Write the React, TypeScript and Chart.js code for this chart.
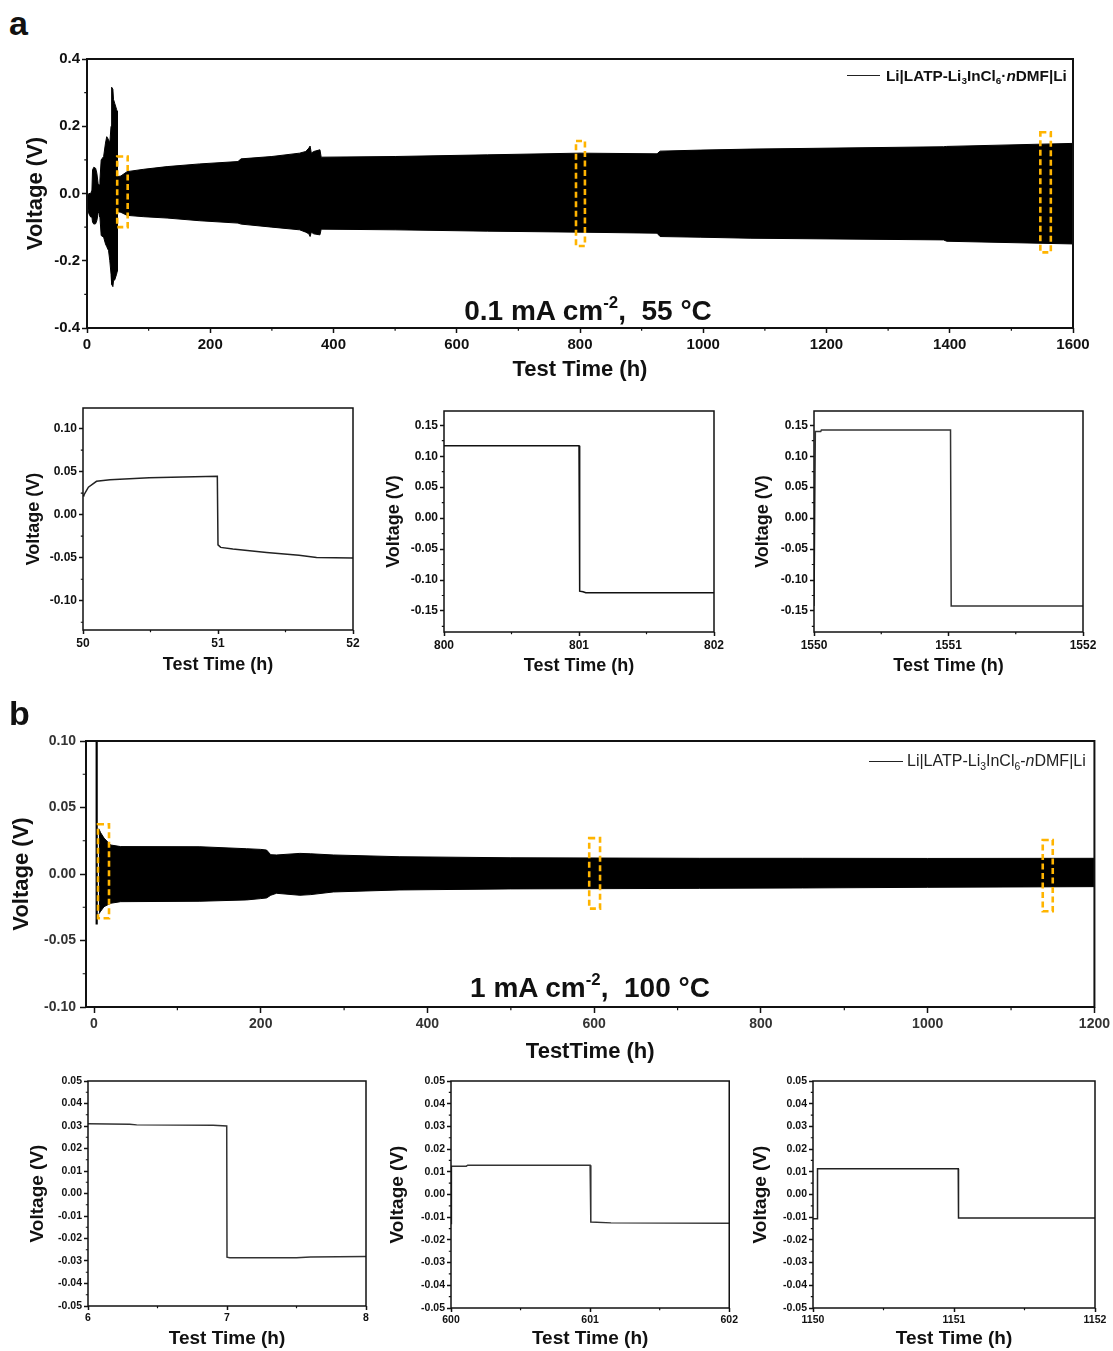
import React, { useEffect, useRef } from 'react';
import { Chart, registerables } from 'chart.js';

Chart.register(...registerables);

const FONT = "'Liberation Sans', Arial, Helvetica, sans-serif";

// ---------------- Panel a (0.1 mA cm-2, 55 °C) : envelope of the cycling band ----------------
const timeA = [0, 1, 3, 6, 8, 9, 11, 14, 16, 18, 20, 21, 23, 27, 30, 32, 35, 37, 39, 40, 42, 43, 45, 48, 49, 49.5, 55, 65, 92, 130, 183, 245, 250, 300, 345, 355, 360, 362, 364, 368, 378, 380, 500, 650, 800, 925, 930, 995, 1076, 1390, 1395, 1600];
const upperA = [0.0, -0.005, 0.0, 0.0, 0.01, 0.07, 0.078, 0.075, 0.06, 0.03, 0.025, 0.04, 0.1, 0.11, 0.15, 0.169, 0.16, 0.15, 0.2, 0.316, 0.31, 0.28, 0.268, 0.25, 0.245, 0.05, 0.052, 0.065, 0.072, 0.08, 0.088, 0.095, 0.103, 0.11, 0.12, 0.125, 0.135, 0.141, 0.12, 0.125, 0.13, 0.108, 0.11, 0.115, 0.12, 0.118, 0.126, 0.129, 0.132, 0.139, 0.14, 0.149];
const lowerA = [-0.005, -0.04, -0.06, -0.07, -0.07, -0.085, -0.091, -0.09, -0.08, -0.06, -0.05, -0.07, -0.125, -0.13, -0.15, -0.158, -0.17, -0.2, -0.24, -0.27, -0.277, -0.26, -0.257, -0.24, -0.232, -0.054, -0.056, -0.065, -0.069, -0.073, -0.081, -0.088, -0.091, -0.1, -0.108, -0.115, -0.12, -0.128, -0.115, -0.12, -0.123, -0.106, -0.108, -0.112, -0.115, -0.118, -0.128, -0.13, -0.133, -0.138, -0.142, -0.15];

// highlighted windows (orange dashed boxes) in panel a
const boxA_t0 = [49, 793.5, 1547];
const boxA_t1 = [66, 808, 1564];
const boxA_top = [0.11, 0.156, 0.182];
const boxA_bot = [-0.1, -0.156, -0.175];

// insets of panel a
const timeA1 = [50, 50.007, 50.04, 50.1, 50.2, 50.49, 50.74, 50.995, 51.0, 51.02, 51.11, 51.36, 51.6, 51.73, 52];
const voltA1 = [0.022, 0.023, 0.032, 0.0388, 0.0407, 0.043, 0.0438, 0.0446, -0.035, -0.038, -0.04, -0.0438, -0.047, -0.0496, -0.0504];
const timeA2 = [800, 801.0, 801.005, 801.03, 801.05, 802];
const voltA2 = [0.117, 0.117, -0.118, -0.119, -0.1207, -0.1207];
const timeA3 = [1550, 1550.01, 1550.05, 1550.055, 1551.015, 1551.02, 1552];
const voltA3 = [-0.142, 0.14, 0.14, 0.1425, 0.1425, -0.142, -0.142];

// ---------------- Panel b (1 mA cm-2, 100 °C) ----------------
const timeB = [5.8, 8, 12, 20, 32, 127, 183, 200, 207, 212, 219, 247, 260, 287, 366, 500, 726, 850, 1000, 1200];
const upperB = [0.034, 0.031, 0.027, 0.0218, 0.0206, 0.0205, 0.019, 0.0185, 0.018, 0.0145, 0.0143, 0.0155, 0.0152, 0.0143, 0.013, 0.0122, 0.0118, 0.0118, 0.0117, 0.0118];
const lowerB = [-0.03, -0.028, -0.0246, -0.022, -0.0208, -0.0205, -0.0195, -0.0185, -0.018, -0.016, -0.0145, -0.016, -0.0155, -0.0135, -0.012, -0.0112, -0.0108, -0.0105, -0.01, -0.0095];
const spikeTimeB = [3.2, 3.2];
const spikeVoltB = [0.12, -0.038];

const boxB_t0 = [4.8, 594, 1138];
const boxB_t1 = [18, 607, 1150];
const boxB_top = [0.0374, 0.027, 0.0256];
const boxB_bot = [-0.0333, -0.026, -0.028];

const timeB1 = [6, 6.3, 6.35, 6.9, 6.998, 7.0, 7.02, 7.5, 7.6, 8];
const voltB1 = [0.031, 0.0308, 0.0305, 0.0303, 0.03, -0.0283, -0.0286, -0.0286, -0.0282, -0.028];
const timeB2 = [600, 600.003, 600.11, 600.12, 601.0, 601.005, 601.15, 602];
const voltB2 = [-0.0128, 0.0125, 0.0125, 0.0129, 0.0129, -0.0121, -0.0125, -0.0127];
const timeB3 = [1150, 1150.03, 1150.032, 1151.03, 1151.032, 1152];
const voltB3 = [-0.0107, -0.0107, 0.0113, 0.0113, -0.0104, -0.0104];

// ---------------- tick values ----------------
const mainAX = [0, 200, 400, 600, 800, 1000, 1200, 1400, 1600];
const mainAXMinor = [100, 300, 500, 700, 900, 1100, 1300, 1500];
const mainAY = [-0.4, -0.2, 0, 0.2, 0.4];
const mainAYMinor = [-0.3, -0.1, 0.1, 0.3];
const insA1Y = [-0.1, -0.05, 0, 0.05, 0.1];
const insA1YMinor = [-0.125, -0.075, -0.025, 0.025, 0.075];
const insA23Y = [-0.15, -0.1, -0.05, 0, 0.05, 0.1, 0.15];
const insA23YMinor = [-0.175, -0.125, -0.075, -0.025, 0.025, 0.075, 0.125];
const mainBX = [0, 200, 400, 600, 800, 1000, 1200];
const mainBXMinor = [100, 300, 500, 700, 900, 1100];
const mainBY = [-0.1, -0.05, 0, 0.05, 0.1];
const mainBYMinor = [-0.075, -0.025, 0.025, 0.075];
const insBY = [-0.05, -0.04, -0.03, -0.02, -0.01, 0, 0.01, 0.02, 0.03, 0.04, 0.05];
const insBYMinor = [-0.045, -0.035, -0.025, -0.015, -0.005, 0.005, 0.015, 0.025, 0.035, 0.045];

type Spec = {
  box: [number, number, number, number];
  plot: [number, number, number, number];
  xr: [number, number];
  yr: [number, number];
  xTicks: number[];
  xMinor: number[];
  yTicks: number[];
  yMinor: number[];
  xDec: number;
  yDec: number;
  tickSize: number;
  tickColor: string;
  tickLen: number;
  xPad: number;
  yPad: number;
  xTitle: string;
  yTitle: string;
  titleSize: number;
  xTitleY: number;
  yTitleX: number;
  frameW: number;
  lines: { x: number[]; y: number[]; w: number; c: string }[];
  band?: { x: number[]; hi: number[]; lo: number[] };
  rects?: { t0: number[]; t1: number[]; top: number[]; bot: number[] };
};

const base = {
  tickColor: '#111',
  frameW: 1.5,
};

const tri = (a: number) => [a, a + 1, a + 2];
const half = (a: number) => [a + 0.5, a + 1.5];

const specs: Spec[] = [
  {
    ...base,
    box: [0, 45, 1113, 345], plot: [87, 59, 1073, 328], xr: [0, 1600], yr: [-0.4, 0.4],
    xTicks: mainAX, xMinor: mainAXMinor, yTicks: mainAY, yMinor: mainAYMinor, xDec: 0, yDec: 1,
    tickSize: 15, tickLen: 5, xPad: 3, yPad: 2,
    xTitle: 'Test Time (h)', yTitle: 'Voltage (V)', titleSize: 22, xTitleY: 370, yTitleX: 36, frameW: 2,
    lines: [], band: { x: timeA, hi: upperA, lo: lowerA },
    rects: { t0: boxA_t0, t1: boxA_t1, top: boxA_top, bot: boxA_bot },
  },
  {
    ...base,
    box: [0, 398, 370, 282], plot: [83, 408, 353, 630], xr: [50, 52], yr: [-0.134, 0.124],
    xTicks: tri(50), xMinor: half(50), yTicks: insA1Y, yMinor: insA1YMinor, xDec: 0, yDec: 2,
    tickSize: 12, tickLen: 4, xPad: 2, yPad: 2,
    xTitle: 'Test Time (h)', yTitle: 'Voltage (V)', titleSize: 18, xTitleY: 665, yTitleX: 34,
    lines: [{ x: timeA1, y: voltA1, w: 1.5, c: '#222' }],
  },
  {
    ...base,
    box: [370, 398, 370, 282], plot: [444, 411, 714, 632], xr: [800, 802], yr: [-0.184, 0.173],
    xTicks: tri(800), xMinor: half(800), yTicks: insA23Y, yMinor: insA23YMinor, xDec: 0, yDec: 2,
    tickSize: 12, tickLen: 4, xPad: 2, yPad: 2,
    xTitle: 'Test Time (h)', yTitle: 'Voltage (V)', titleSize: 18, xTitleY: 666, yTitleX: 394,
    lines: [{ x: timeA2, y: voltA2, w: 1.5, c: '#111' }],
  },
  {
    ...base,
    box: [740, 398, 373, 282], plot: [814, 411, 1083, 632], xr: [1550, 1552], yr: [-0.184, 0.173],
    xTicks: tri(1550), xMinor: half(1550), yTicks: insA23Y, yMinor: insA23YMinor, xDec: 0, yDec: 2,
    tickSize: 12, tickLen: 4, xPad: 2, yPad: 2,
    xTitle: 'Test Time (h)', yTitle: 'Voltage (V)', titleSize: 18, xTitleY: 666, yTitleX: 763,
    lines: [{ x: timeA3, y: voltA3, w: 1.5, c: '#333' }],
  },
  {
    ...base,
    tickColor: '#333',
    box: [0, 725, 1113, 345], plot: [86, 741, 1096, 1007], xr: [-9.6, 1200], yr: [-0.1, 0.1],
    xTicks: mainBX, xMinor: mainBXMinor, yTicks: mainBY, yMinor: mainBYMinor, xDec: 0, yDec: 2,
    tickSize: 14, tickLen: 6, xPad: 3, yPad: 4,
    xTitle: 'TestTime (h)', yTitle: 'Voltage (V)', titleSize: 22, xTitleY: 1052, yTitleX: 22, frameW: 2,
    lines: [{ x: spikeTimeB, y: spikeVoltB, w: 2.2, c: '#000' }],
    band: { x: timeB, hi: upperB, lo: lowerB },
    rects: { t0: boxB_t0, t1: boxB_t1, top: boxB_top, bot: boxB_bot },
  },
  {
    ...base,
    box: [0, 1070, 375, 281], plot: [88, 1081, 366, 1306], xr: [6, 8], yr: [-0.05, 0.05],
    xTicks: tri(6), xMinor: half(6), yTicks: insBY, yMinor: insBYMinor, xDec: 0, yDec: 2,
    tickSize: 10.5, tickLen: 4, xPad: 2, yPad: 2,
    xTitle: 'Test Time (h)', yTitle: 'Voltage (V)', titleSize: 19, xTitleY: 1339, yTitleX: 38,
    lines: [{ x: timeB1, y: voltB1, w: 1.5, c: '#333' }],
  },
  {
    ...base,
    box: [375, 1070, 365, 281], plot: [451, 1081, 730, 1308], xr: [600, 602], yr: [-0.05, 0.05],
    xTicks: tri(600), xMinor: half(600), yTicks: insBY, yMinor: insBYMinor, xDec: 0, yDec: 2,
    tickSize: 10.5, tickLen: 4, xPad: 2, yPad: 2,
    xTitle: 'Test Time (h)', yTitle: 'Voltage (V)', titleSize: 19, xTitleY: 1339, yTitleX: 398,
    lines: [{ x: timeB2, y: voltB2, w: 1.5, c: '#333' }],
  },
  {
    ...base,
    box: [740, 1070, 373, 281], plot: [813, 1081, 1095, 1308], xr: [1150, 1152], yr: [-0.05, 0.05],
    xTicks: tri(1150), xMinor: half(1150), yTicks: insBY, yMinor: insBYMinor, xDec: 0, yDec: 2,
    tickSize: 10.5, tickLen: 4, xPad: 2, yPad: 2,
    xTitle: 'Test Time (h)', yTitle: 'Voltage (V)', titleSize: 19, xTitleY: 1339, yTitleX: 761,
    lines: [{ x: timeB3, y: voltB3, w: 1.5, c: '#222' }],
  },
];

const fmt = (v: number, d: number) => {
  const s = v.toFixed(d);
  return /^-0\.?0*$/.test(s) ? s.slice(1) : s;
};

const pts = (xs: number[], ys: number[]) => xs.map((x, i) => ({ x, y: ys[i] }));

function decor(spec: Spec) {
  return {
    id: 'decor',
    afterDatasetsDraw(chart: any) {
      if (!spec.rects) return;
      const { ctx } = chart;
      const xs = chart.scales.x;
      const ys = chart.scales.y;
      ctx.save();
      ctx.strokeStyle = '#FFB400';
      ctx.lineWidth = 2.6;
      ctx.setLineDash([6, 3.5]);
      const r = spec.rects;
      r.t0.forEach((t0, i) => {
        const x0 = xs.getPixelForValue(t0);
        const x1 = xs.getPixelForValue(r.t1[i]);
        const y0 = ys.getPixelForValue(r.top[i]);
        const y1 = ys.getPixelForValue(r.bot[i]);
        ctx.strokeRect(x0, y0, x1 - x0, y1 - y0);
      });
      ctx.restore();
    },
    afterDraw(chart: any) {
      const { ctx, chartArea: a } = chart;
      const xs = chart.scales.x;
      const ys = chart.scales.y;
      ctx.save();
      ctx.strokeStyle = '#111';
      ctx.lineWidth = spec.frameW;
      ctx.strokeRect(a.left, a.top, a.right - a.left, a.bottom - a.top);
      ctx.lineWidth = 1.2;
      const ml = Math.max(2, spec.tickLen * 0.55);
      ctx.beginPath();
      spec.xMinor.forEach((v) => {
        const px = xs.getPixelForValue(v);
        ctx.moveTo(px, a.bottom);
        ctx.lineTo(px, a.bottom + ml);
      });
      spec.yMinor.forEach((v) => {
        const py = ys.getPixelForValue(v);
        ctx.moveTo(a.left, py);
        ctx.lineTo(a.left - ml, py);
      });
      ctx.stroke();
      ctx.restore();
    },
  };
}

function makeConfig(spec: Spec): any {
  const [cx, cy, cw, ch] = spec.box;
  const [pl, pt, pr, pb] = spec.plot;
  const datasets: any[] = [];
  if (spec.band) {
    datasets.push({
      data: pts(spec.band.x, spec.band.hi),
      borderColor: '#000', backgroundColor: '#000', borderWidth: 1,
      pointRadius: 0, fill: '+1', tension: 0,
    });
    datasets.push({
      data: pts(spec.band.x, spec.band.lo),
      borderColor: '#000', backgroundColor: '#000', borderWidth: 1,
      pointRadius: 0, fill: false, tension: 0,
    });
  }
  spec.lines.forEach((l) => {
    datasets.push({
      data: pts(l.x, l.y),
      borderColor: l.c, borderWidth: l.w, pointRadius: 0, fill: false, tension: 0,
    });
  });
  const tickFont = { family: FONT, size: spec.tickSize, weight: 'bold' as const };
  const titleFont = { family: FONT, size: spec.titleSize, weight: 'bold' as const, lineHeight: 1.2 };
  const halfLH = (spec.titleSize * 1.2) / 2;
  const grid = {
    display: true, drawOnChartArea: false, drawTicks: true,
    tickLength: spec.tickLen, tickColor: '#111', tickWidth: 1.5, color: 'rgba(0,0,0,0)',
  };
  return {
    type: 'line',
    data: { datasets },
    plugins: [decor(spec)],
    options: {
      animation: false,
      responsive: false,
      events: [],
      layout: { padding: { left: 0, bottom: 0, top: pt - cy, right: cx + cw - pr } },
      plugins: { legend: { display: false }, tooltip: { enabled: false }, title: { display: false } },
      scales: {
        x: {
          type: 'linear', position: 'bottom', min: spec.xr[0], max: spec.xr[1],
          afterBuildTicks: (s: any) => { s.ticks = spec.xTicks.map((v) => ({ value: v })); },
          afterFit: (s: any) => { s.height = cy + ch - pb; },
          ticks: {
            autoSkip: false, maxRotation: 0, minRotation: 0, padding: spec.xPad,
            color: spec.tickColor, font: tickFont,
            callback: (v: any) => fmt(Number(v), spec.xDec),
          },
          grid, border: { display: false },
          title: {
            display: true, text: spec.xTitle, color: '#111', font: titleFont,
            padding: { top: 0, bottom: cy + ch - spec.xTitleY - halfLH },
          },
        },
        y: {
          type: 'linear', position: 'left', min: spec.yr[0], max: spec.yr[1],
          afterBuildTicks: (s: any) => { s.ticks = spec.yTicks.map((v) => ({ value: v })); },
          afterFit: (s: any) => { s.width = pl - cx; },
          ticks: {
            autoSkip: false, padding: spec.yPad, color: spec.tickColor, font: tickFont,
            callback: (v: any) => fmt(Number(v), spec.yDec),
          },
          grid, border: { display: false },
          title: {
            display: true, text: spec.yTitle, color: '#111', font: titleFont,
            padding: { top: spec.yTitleX - cx - halfLH, bottom: 0 },
          },
        },
      },
    },
  };
}

function Panel({ spec }: { spec: Spec }) {
  const ref = useRef<HTMLCanvasElement>(null);
  useEffect(() => {
    const chart = new Chart(ref.current as HTMLCanvasElement, makeConfig(spec));
    return () => chart.destroy();
  }, [spec]);
  const [x, y, w, h] = spec.box;
  return (
    <canvas
      ref={ref}
      width={w}
      height={h}
      style={{ position: 'absolute', left: x, top: y, width: w, height: h }}
    />
  );
}

const ASC = 0.8465; // baseline offset for line-height 1 (Liberation Sans)

function Txt({ x, base, size, bold = true, center = false, color = '#111', children }: any) {
  return (
    <div
      style={{
        position: 'absolute', left: x, top: base - ASC * size, fontFamily: FONT, fontSize: size,
        fontWeight: bold ? 'bold' : 'normal', lineHeight: 1, whiteSpace: 'nowrap', color,
        transform: center ? 'translateX(-50%)' : undefined,
      }}
    >
      {children}
    </div>
  );
}

const sub: React.CSSProperties = { fontSize: '0.65em', position: 'relative', top: '0.3em' };
const sup: React.CSSProperties = { fontSize: '0.6em', position: 'relative', top: '-0.75em' };

export default function App() {
  return (
    <div style={{ position: 'absolute', left: 0, top: 0, width: 1113, height: 1351, background: '#fff', overflow: 'hidden' }}>
      {specs.map((s, i) => (
        <Panel key={i} spec={s} />
      ))}
      <Txt x={9} base={35} size={34}>a</Txt>
      <Txt x={9} base={725} size={34}>b</Txt>

      <Txt x={588} base={321} size={28} center>
        0.1 mA cm<span style={sup}>-2</span>,{'\u00a0 '}55 °C
      </Txt>
      <Txt x={590} base={998} size={28} center>
        1 mA cm<span style={sup}>-2</span>,{'\u00a0 '}100 °C
      </Txt>

      <div style={{ position: 'absolute', left: 847, top: 75, width: 33, borderTop: '1.5px solid #222' }} />
      <Txt x={886} base={81} size={15.3}>
        Li|LATP-Li<span style={sub}>3</span>InCl<span style={sub}>6</span>·<i>n</i>DMF|Li
      </Txt>
      <div style={{ position: 'absolute', left: 869, top: 761, width: 34, borderTop: '1.5px solid #222' }} />
      <Txt x={907} base={767} size={16} bold={false} color="#222">
        Li|LATP-Li<span style={sub}>3</span>InCl<span style={sub}>6</span>-<i>n</i>DMF|Li
      </Txt>
    </div>
  );
}
